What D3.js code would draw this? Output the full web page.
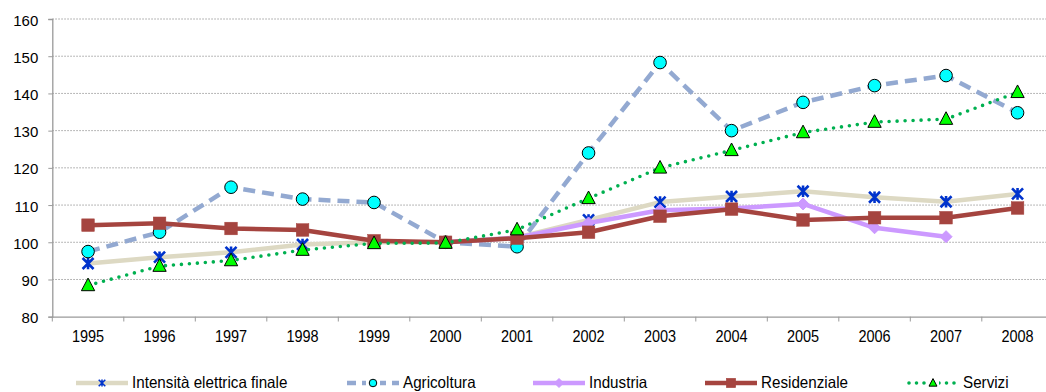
<!DOCTYPE html>
<html><head><meta charset="utf-8">
<script src="https://cdn.jsdelivr.net/npm/d3@7"></script>
<style>
body{margin:0;background:#fff;}
svg{display:block;font-family:"Liberation Sans",Arial,sans-serif;}
</style></head>
<body><svg id="c" width="1046" height="392"></svg>
<script>
const years = ["1995","1996","1997","1998","1999","2000","2001","2002","2003","2004","2005","2006","2007","2008"];
const yTicks = [80,90,100,110,120,130,140,150,160];
const intensita = [94.3,96.0,97.3,99.4,100.0,100,101.3,106.0,110.8,112.3,113.7,112.1,110.9,113.0];
const agricoltura = [97.5,102.7,114.8,111.6,110.7,100,98.8,124.0,148.3,130.0,137.6,142.1,144.8,134.8];
const industria = [null,null,null,null,null,100,101.2,105.2,108.6,109.1,110.3,103.9,101.5,null];
const residenziale = [104.6,105.1,103.7,103.3,100.4,100,101.1,102.7,107.0,108.9,106.0,106.6,106.6,109.2];
const servizi = [88.4,93.6,95.1,97.9,99.7,99.8,103.4,111.8,120.0,124.7,129.5,132.3,133.1,140.3];

const series = [
  {name:"Intensità elettrica finale", values:intensita, line:"#ddd9c3", width:4.5, dash:null, marker:"x", fill:"#0033cc", stroke:"#0033cc"},
  {name:"Agricoltura", values:agricoltura, line:"#93a9d1", width:4.5, dash:"12,7", marker:"circle", fill:"#00ffff", stroke:"#000"},
  {name:"Industria", values:industria, line:"#cc99ff", width:4.5, dash:null, marker:"diamond", fill:"#cc99ff", stroke:"#cc99ff"},
  {name:"Residenziale", values:residenziale, line:"#a5443f", width:4.5, dash:null, marker:"square", fill:"#a5443f", stroke:"#a5443f"},
  {name:"Servizi", values:servizi, line:"#00b050", width:3.6, dash:"0,8", marker:"triangle", fill:"#00ff00", stroke:"#000"}
];

const svg = d3.select("#c");
const x = d3.scaleBand().domain(years).range([52.3, 1053.3]).padding(0);
const y = d3.scaleLinear().domain([80,160]).range([316.7, 19]);
const cx = d => x(d) + x.bandwidth()/2;

// gridlines
svg.append("g").selectAll("line").data(yTicks.filter(t=>t>80)).join("line")
  .attr("x1",52.3).attr("x2",1053).attr("y1",d=>y(d)).attr("y2",d=>y(d))
  .attr("stroke","#a0a0a0").attr("stroke-width",1).attr("stroke-dasharray","1.5,1.5");

// y axis
const yAxis = svg.append("g").attr("transform","translate(52.3,0)")
  .call(d3.axisLeft(y).tickValues(yTicks).tickSize(4).tickPadding(10).tickFormat(d3.format("d")));
yAxis.select(".domain").attr("stroke","#9a9a9a").attr("stroke-width",1.3);
yAxis.selectAll(".tick line").attr("stroke","#9a9a9a");
yAxis.selectAll("text").attr("font-size","15px").attr("fill","#000").attr("dy","0.4em")
  .attr("font-family","Liberation Sans, Arial, sans-serif");

// x axis
const xAxis = svg.append("g").attr("transform","translate(0,316.7)")
  .call(d3.axisBottom(x).tickSize(0));
xAxis.select(".domain").attr("stroke","#9a9a9a").attr("stroke-width",1.3);
xAxis.selectAll("text").attr("font-size","14.5px").attr("fill","#000")
  .attr("font-family","Liberation Sans, Arial, sans-serif")
  .attr("y",21.7).attr("dy",null).attr("transform","scale(1,1.18)");
svg.append("g").selectAll("line").data(years).join("line")
  .attr("x1",d=>x(d)).attr("x2",d=>x(d)).attr("y1",316.7).attr("y2",321.5)
  .attr("stroke","#9a9a9a").attr("stroke-width",1);

// markers
function drawMarker(g, type, fill, stroke, sc){
  sc = sc||1;
  if(type==="x"){
    const r=5.5*sc;
    g.append("path").attr("d",`M${-r},${-r}L${r},${r}M${-r},${r}L${r},${-r}M0,${-r*1.05}L0,${r*1.05}`)
      .attr("stroke",fill).attr("stroke-width",2.6*sc).attr("fill","none");
  } else if(type==="circle"){
    g.append("circle").attr("r",6.3*sc).attr("fill",fill).attr("stroke",stroke).attr("stroke-width",1);
  } else if(type==="diamond"){
    const r=6*sc;
    g.append("path").attr("d",`M0,${-r}L${r},0L0,${r}L${-r},0Z`).attr("fill",fill).attr("stroke",stroke);
  } else if(type==="square"){
    const r=6.3*sc;
    g.append("rect").attr("x",-r).attr("y",-r).attr("width",2*r).attr("height",2*r).attr("fill",fill).attr("stroke",stroke).attr("stroke-width",0.5);
  } else if(type==="triangle"){
    const r=7*sc;
    g.append("path").attr("d",`M0,${-r*1.05}L${r*0.95},${r*0.75}L${-r*0.95},${r*0.75}Z`).attr("fill",fill).attr("stroke",stroke).attr("stroke-width",1);
  }
}

const plot = svg.append("g");
series.forEach(s=>{
  const pts = years.map((yr,i)=>({yr, v:s.values[i]})).filter(p=>p.v!==null);
  const line = d3.line().x(p=>cx(p.yr)).y(p=>y(p.v));
  const path = plot.append("path").datum(pts).attr("d",line).attr("fill","none")
    .attr("stroke",s.line).attr("stroke-width",s.width).attr("stroke-linejoin","round");
  if(s.dash){ path.attr("stroke-dasharray",s.dash); }
  if(s.marker==="triangle"){ path.attr("stroke-linecap","round"); }
  pts.forEach(p=>{
    const g = plot.append("g").attr("transform",`translate(${cx(p.yr)},${y(p.v)})`);
    drawMarker(g, s.marker, s.fill, s.stroke, 1);
  });
});

// legend
const legendX = [76, 347, 533, 705, 907];
const legY = 383;
series.forEach((s,i)=>{
  const lg = svg.append("g").attr("transform",`translate(${legendX[i]},${legY})`);
  const l = lg.append("line").attr("x1",0).attr("x2",52).attr("y1",0).attr("y2",0)
    .attr("stroke",s.line).attr("stroke-width",s.width);
  if(s.dash){ l.attr("stroke-dasharray", s.marker==="triangle" ? "0,7.5" : "9,6"); }
  if(s.marker==="triangle"){ l.attr("stroke-linecap","round").attr("x1",2); }
  const m = lg.append("g").attr("transform","translate(26,0)");
  if(s.dash && s.marker!=="triangle"){ m.append("rect").attr("x",-7).attr("y",-4).attr("width",14).attr("height",8).attr("fill","#fff"); }
  if(s.marker==="triangle"){ m.append("rect").attr("x",-6).attr("y",-4).attr("width",12).attr("height",8).attr("fill","#fff"); }
  drawMarker(m, s.marker, s.fill, s.stroke, s.marker==="square"||s.marker==="diamond"?0.75:0.6);
  lg.append("text").attr("transform","translate(56,4.6) scale(1,1.1)").attr("font-size","15.2px").attr("fill","#000").text(s.name);
});
</script></body></html>
